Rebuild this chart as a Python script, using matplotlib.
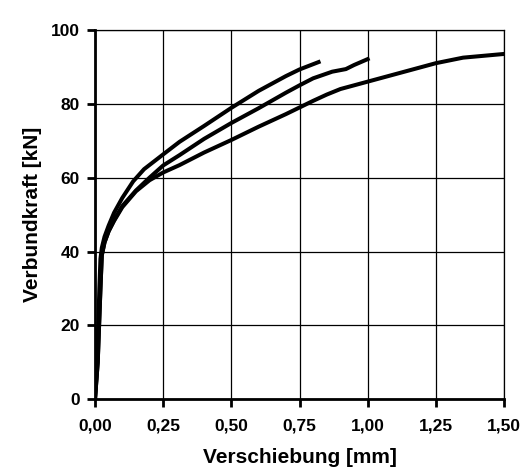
import matplotlib
matplotlib.use("Agg")
import matplotlib.pyplot as plt
from matplotlib.ticker import FuncFormatter, MultipleLocator

# Verschiebung [mm] / Verbundkraft [kN] for the three push-out tests
x_a = [0.0, 0.008, 0.012, 0.016, 0.02, 0.025, 0.035, 0.05, 0.07, 0.10, 0.14,
       0.18, 0.25, 0.31, 0.40, 0.50, 0.60, 0.70, 0.75, 0.82]
y_a = [0.0, 10.0, 20.0, 30.0, 38.0, 41.0, 44.0, 47.0, 50.5, 54.5, 59.0,
       62.3, 66.3, 69.7, 74.0, 78.9, 83.5, 87.5, 89.3, 91.3]

x_b = [0.0, 0.01, 0.015, 0.02, 0.025, 0.035, 0.05, 0.07, 0.10, 0.15, 0.20,
       0.25, 0.31, 0.40, 0.50, 0.60, 0.70, 0.75, 0.80, 0.87, 0.92, 0.95, 1.00]
y_b = [0.0, 10.0, 20.0, 30.0, 39.0, 42.5, 45.5, 48.5, 52.3, 56.5, 60.0,
       63.3, 66.1, 70.5, 74.8, 78.8, 83.0, 85.0, 86.9, 88.7, 89.4, 90.5, 92.1]

x_c = [0.0, 0.01, 0.015, 0.02, 0.025, 0.035, 0.05, 0.07, 0.10, 0.15, 0.20,
       0.25, 0.31, 0.40, 0.50, 0.60, 0.70, 0.75, 0.80, 0.85, 0.90, 1.00,
       1.10, 1.25, 1.35, 1.50]
y_c = [0.0, 10.0, 20.0, 30.0, 39.0, 42.5, 45.5, 48.3, 52.0, 56.3, 59.3,
       61.4, 63.4, 66.8, 70.2, 73.8, 77.2, 79.0, 80.8, 82.5, 84.0, 86.0,
       88.0, 91.0, 92.5, 93.5]

plt.rcParams['font.family'] = ['Liberation Sans', 'DejaVu Sans']
plt.rcParams['font.weight'] = 'bold'

fig = plt.figure(figsize=(5.26, 4.68), dpi=100)
ax = fig.add_axes([0.1806, 0.147, 0.7776, 0.789])

for xs, ys in [(x_a, y_a), (x_b, y_b), (x_c, y_c)]:
    ax.plot(xs, ys, color='black', lw=2.9, solid_joinstyle='round', zorder=3)

ax.set_xlim(0, 1.5)
ax.set_ylim(0, 100)
ax.xaxis.set_major_locator(MultipleLocator(0.25))
ax.yaxis.set_major_locator(MultipleLocator(20))
ax.xaxis.set_major_formatter(FuncFormatter(lambda v, p: ('%.2f' % v).replace('.', ',')))

ax.grid(True, color='black', lw=0.9)
for side in ['top', 'right']:
    ax.spines[side].set_linewidth(0.9)
for side in ['left', 'bottom']:
    ax.spines[side].set_linewidth(2.0)

ax.tick_params(axis='x', direction='out', length=6, width=2, pad=8, labelsize=12.5)
ax.tick_params(axis='y', direction='out', length=6, width=2, pad=5, labelsize=12.5)

ax.set_xlabel('Verschiebung [mm]', fontsize=15, fontweight='bold', labelpad=10.5)
ax.set_ylabel('Verbundkraft [kN]', fontsize=15, fontweight='bold', labelpad=6)

fig.savefig('out.png', dpi=100)
